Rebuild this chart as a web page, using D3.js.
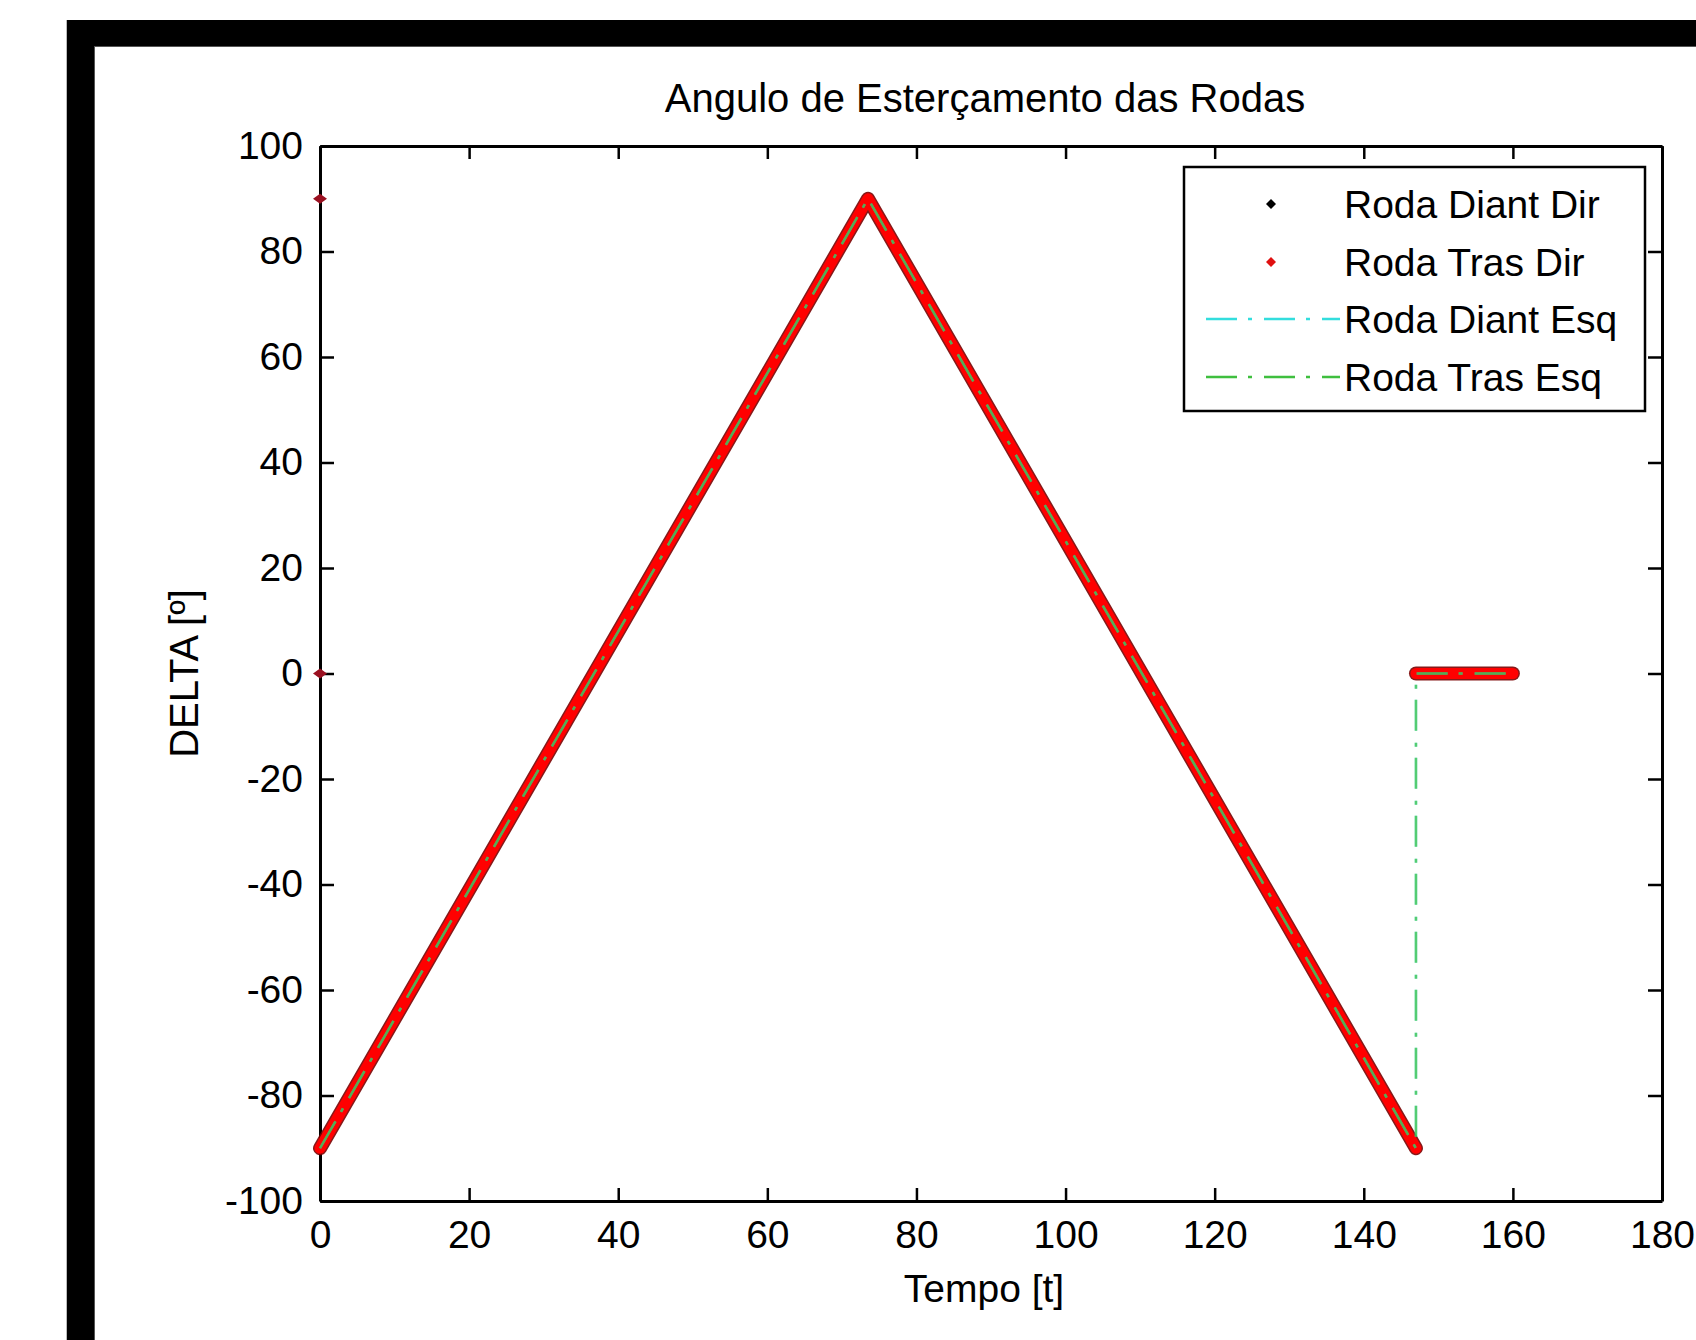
<!DOCTYPE html>
<html>
<head>
<meta charset="utf-8">
<script src="https://cdn.jsdelivr.net/npm/d3@7"></script>
<style>
  html, body { margin: 0; padding: 0; background: #fff; }
  svg { display: block; }
  text { font-family: "Liberation Sans", Arial, sans-serif; fill: #000; }
</style>
</head>
<body>
<script>
// ---- data ----
const chartTitle = "Angulo de Esterçamento das Rodas";
const xLabel = "Tempo [t]";
const yLabel = "DELTA [º]";
const seriesNames = ["Roda Diant Dir", "Roda Tras Dir", "Roda Diant Esq", "Roda Tras Esq"];
const xTicks = [0, 20, 40, 60, 80, 100, 120, 140, 160, 180];
const yTicks = [-100, -80, -60, -40, -20, 0, 20, 40, 60, 80, 100];

// right wheels (point markers): ramp up / ramp down, then flat at 0
const tempoDirRampa = [0, 73.5, 147];
const deltaDiantDirRampa = [-90, 90, -90];
const deltaTrasDirRampa = [-90, 90, -90];
const tempoDirFinal = [147, 160];
const deltaDiantDirFinal = [0, 0];
const deltaTrasDirFinal = [0, 0];
// isolated marker points at t = 0
const tempoIsolados = [0, 0];
const deltaIsolados = [90, 0];

// left wheels (dash-dot lines)
const tempoEsq = [0, 73.5, 147, 147, 160];
const deltaDiantEsq = [-90, 90, -90, 0, 0];
const deltaTrasEsq = [-90, 90, -90, 0, 0];

// ---- drawing ----
const W = 1696, H = 1340;
const svg = d3.select("body").append("svg").attr("width", W).attr("height", H);

// black outer frame (partial, as in the picture)
svg.append("rect").attr("x", 67).attr("y", 20).attr("width", W - 67).attr("height", 26).attr("fill", "#000");
svg.append("rect").attr("x", 67).attr("y", 20).attr("width", 27).attr("height", H - 20).attr("fill", "#000");
svg.append("line").attr("x1", 94.5).attr("x2", 94.5).attr("y1", 46).attr("y2", H).attr("stroke", "#555").attr("stroke-width", 1);
svg.append("line").attr("x1", 94).attr("x2", W).attr("y1", 46.5).attr("y2", 46.5).attr("stroke", "#555").attr("stroke-width", 1);
svg.append("line").attr("x1", 66.5).attr("x2", 66.5).attr("y1", 20).attr("y2", H).attr("stroke", "#bbb").attr("stroke-width", 1);

const L = 320, R = 1662, T = 146, B = 1201;
const x = d3.scaleLinear().domain([0, 180]).range([L, R]);
const y = d3.scaleLinear().domain([-100, 100]).range([B, T]);

const FS = 39;
const fmt = d => String(d); // plain hyphen minus, as in the picture

// axes
const gx = svg.append("g").attr("transform", `translate(0,${B})`)
  .call(d3.axisBottom(x).tickValues(xTicks).tickFormat(fmt).tickSize(-13).tickSizeOuter(0).tickPadding(19));
const gxt = svg.append("g").attr("transform", `translate(0,${T})`)
  .call(d3.axisTop(x).tickValues(xTicks).tickSize(-13).tickSizeOuter(0).tickFormat(""));
const gy = svg.append("g").attr("transform", `translate(${L},0)`)
  .call(d3.axisLeft(y).tickValues(yTicks).tickFormat(fmt).tickSize(-14).tickSizeOuter(0).tickPadding(17));
const gyr = svg.append("g").attr("transform", `translate(${R},0)`)
  .call(d3.axisRight(y).tickValues(yTicks).tickSize(-14).tickSizeOuter(0).tickFormat(""));
[gx, gxt, gy, gyr].forEach(g => {
  g.select(".domain").attr("stroke", "#000").attr("stroke-width", 3);
  g.selectAll(".tick line").attr("stroke", "#000").attr("stroke-width", 2.5);
  g.selectAll(".tick text").style("font-family", "'Liberation Sans', Arial, sans-serif").style("font-size", FS + "px").attr("fill", "#000");
});

// title & labels
svg.append("text").attr("x", 985).attr("y", 112).attr("text-anchor", "middle")
  .style("font-size", "40px").text(chartTitle);
svg.append("text").attr("x", 984).attr("y", 1302).attr("text-anchor", "middle")
  .style("font-size", FS + "px").text(xLabel);
svg.append("text").attr("transform", `translate(198,${(T + B) / 2}) rotate(-90)`).attr("text-anchor", "middle")
  .style("font-size", "40px").text(yLabel);

const plot = svg.append("g");
const line = d3.line().x(d => x(d[0])).y(d => y(d[1]));
const zip = (a, b) => a.map((v, i) => [v, b[i]]);

// dense point markers drawn as a thick band (black under, red over)
const band = (t, v, color, w, op) => plot.append("path").attr("d", line(zip(t, v)))
  .attr("fill", "none").attr("stroke", color).attr("stroke-width", w).attr("stroke-opacity", op)
  .attr("stroke-linejoin", "round").attr("stroke-linecap", "round");
band(tempoDirRampa, deltaDiantDirRampa, "#7a0000", 14, 0.9);
band(tempoDirFinal, deltaDiantDirFinal, "#7a0000", 14, 0.9);
band(tempoDirRampa, deltaTrasDirRampa, "#ff0000", 11, 1);
band(tempoDirFinal, deltaTrasDirFinal, "#ff0000", 11, 1);

// isolated markers
const diamond = (cx, cy, rx, ry) => `M${cx - rx},${cy}L${cx},${cy - ry}L${cx + rx},${cy}L${cx},${cy + ry}Z`;
plot.selectAll(".iso").data(zip(tempoIsolados, deltaIsolados)).join("path")
  .attr("d", d => diamond(x(d[0]), y(d[1]), 7, 5)).attr("fill", "#9a1020");

// dash-dot lines
const dash = "31,11,4,12";
plot.append("path").attr("d", line(zip(tempoEsq, deltaDiantEsq))).attr("fill", "none")
  .attr("stroke", "#33dddd").attr("stroke-width", 2.5).attr("stroke-opacity", 0.6).attr("stroke-dasharray", dash);
plot.append("path").attr("d", line(zip(tempoEsq, deltaTrasEsq))).attr("fill", "none")
  .attr("stroke", "#3fbf3f").attr("stroke-width", 2.5).attr("stroke-opacity", 0.7).attr("stroke-dasharray", dash);

// legend
const lg = svg.append("g");
lg.append("rect").attr("x", 1184).attr("y", 167).attr("width", 461).attr("height", 244)
  .attr("fill", "#fff").attr("stroke", "#000").attr("stroke-width", 2.5);
const rowY = [204, 262, 319, 377];
seriesNames.forEach((name, i) => {
  lg.append("text").attr("x", 1344).attr("y", rowY[i] + 14).style("font-size", FS + "px").text(name);
});
lg.append("path").attr("d", diamond(1271, rowY[0], 5, 5)).attr("fill", "#000");
lg.append("path").attr("d", diamond(1271, rowY[1], 5, 5)).attr("fill", "#e01010");
lg.append("line").attr("x1", 1206).attr("x2", 1340).attr("y1", rowY[2]).attr("y2", rowY[2])
  .attr("stroke", "#33dddd").attr("stroke-width", 2.5).attr("stroke-dasharray", dash);
lg.append("line").attr("x1", 1206).attr("x2", 1340).attr("y1", rowY[3]).attr("y2", rowY[3])
  .attr("stroke", "#3fbf3f").attr("stroke-width", 2.5).attr("stroke-dasharray", dash);
</script>
</body>
</html>
